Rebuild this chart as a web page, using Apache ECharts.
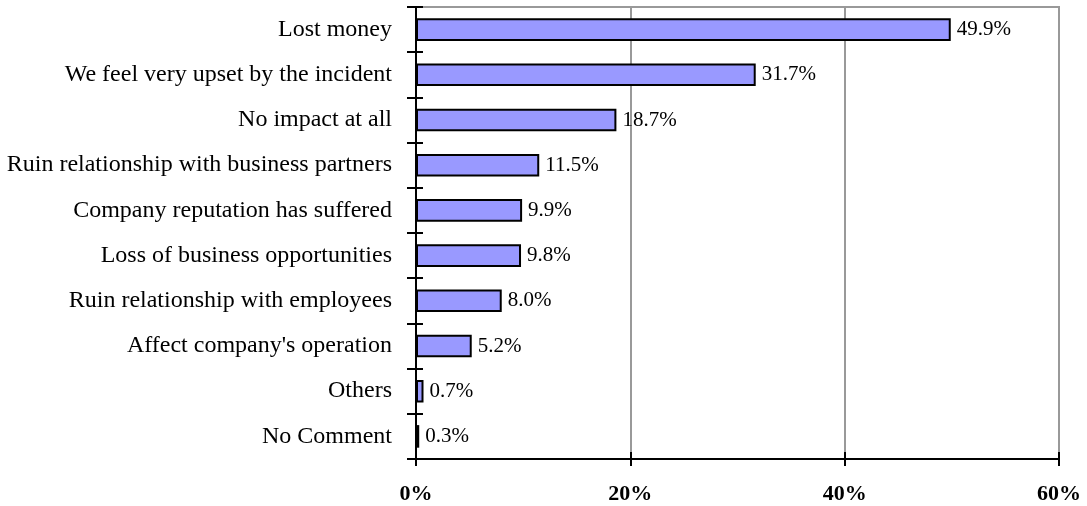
<!DOCTYPE html>
<html>
<head>
<meta charset="utf-8">
<script src="https://cdn.jsdelivr.net/npm/echarts@6/dist/echarts.min.js"></script>
<style>
  html, body { margin: 0; padding: 0; background: #fff; }
  #main { width: 1087px; height: 506px; }
</style>
</head>
<body>
<div id="main"></div>
<script>
// categories, top to bottom
const categories = [
  'Lost money',
  'We feel very upset by the incident',
  'No impact at all',
  'Ruin relationship with business partners',
  'Company reputation has suffered',
  'Loss of business opportunities',
  'Ruin relationship with employees',
  "Affect company's operation",
  'Others',
  'No Comment'
];
const values = [49.9, 31.7, 18.7, 11.5, 9.9, 9.8, 8.0, 5.2, 0.7, 0.3];
const xTicks = [0, 20, 40, 60];

const chart = echarts.init(document.getElementById('main'));
const font = 'Liberation Serif, Times New Roman, serif';

const option = {
  backgroundColor: '#ffffff',
  animation: false,
  grid: {
    left: 416, right: 28, top: 7, bottom: 47,
    show: true, borderColor: '#999', borderWidth: 2
  },
  xAxis: [{
    type: 'value',
    min: xTicks[0], max: xTicks[xTicks.length - 1], interval: 20,
    axisLine: { show: true, onZero: false, lineStyle: { color: '#000', width: 2 } },
    axisTick: { show: true, length: 7, lineStyle: { color: '#000', width: 2 } },
    axisLabel: {
      margin: 24, color: '#000', fontFamily: font, fontSize: 22, fontWeight: 'bold',
      formatter: v => v + '%'
    },
    splitLine: { show: true, lineStyle: { color: '#999', width: 2 } }
  }, {
    // second copy only for the inward half of the ticks
    type: 'value', position: 'bottom',
    min: xTicks[0], max: xTicks[xTicks.length - 1], interval: 20,
    axisLine: { show: false },
    axisTick: { show: true, inside: true, length: 7, lineStyle: { color: '#000', width: 2 } },
    axisLabel: { show: false },
    splitLine: { show: false }
  }],
  yAxis: [{
    type: 'category', data: categories, inverse: true,
    axisLine: { show: true, lineStyle: { color: '#000', width: 2 } },
    axisTick: { show: true, length: 9, lineStyle: { color: '#000', width: 2 } },
    axisLabel: { margin: 24, color: '#000', fontFamily: font, fontSize: 24, padding: [3, 0, 0, 0] }
  }, {
    type: 'category', data: categories, inverse: true, position: 'left',
    axisLine: { show: false },
    axisTick: { show: true, inside: true, length: 7, lineStyle: { color: '#000', width: 2 } },
    axisLabel: { show: false }
  }],
  series: [{
    type: 'bar',
    data: values,
    barCategoryGap: '50%',
    itemStyle: { color: '#9999ff', borderColor: '#000', borderWidth: 2 },
    label: {
      show: true, position: 'right', distance: 6,
      color: '#000', fontFamily: font, fontSize: 21,
      formatter: p => p.value.toFixed(1) + '%'
    }
  }]
};
chart.setOption(option);
</script>
</body>
</html>
